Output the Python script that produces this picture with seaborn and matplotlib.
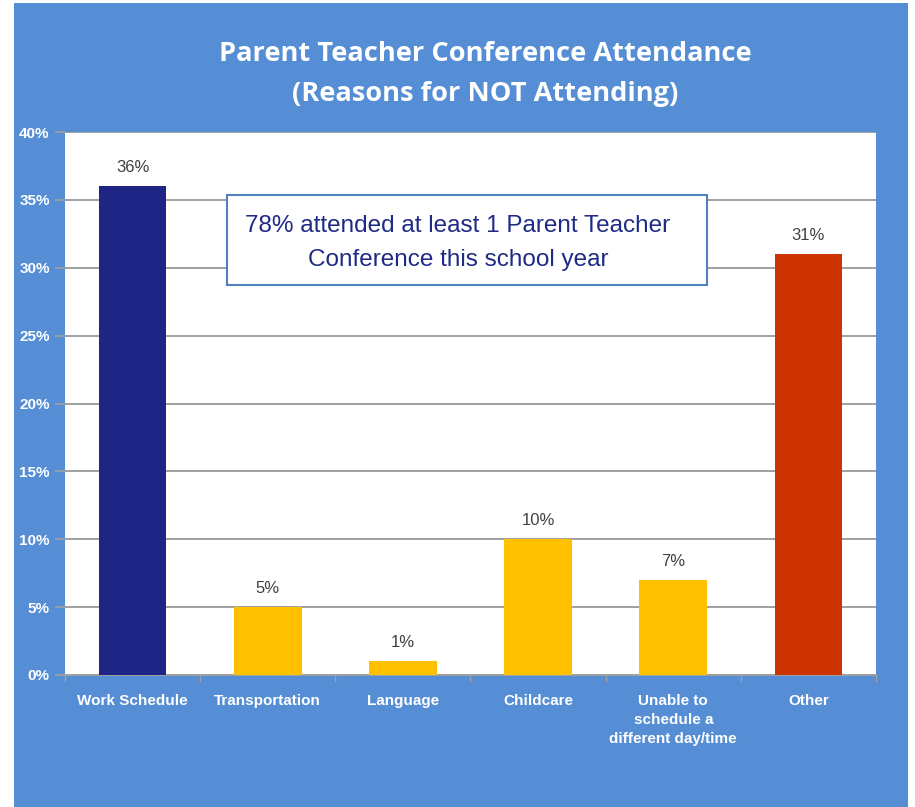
import matplotlib
matplotlib.use("Agg")
import matplotlib.pyplot as plt
import seaborn as sns
import pandas as pd
from matplotlib.patches import Rectangle
from matplotlib.ticker import FuncFormatter

categories = ["Work Schedule", "Transportation", "Language", "Childcare",
              "Unable to\nschedule a\ndifferent day/time", "Other"]
values = [36, 5, 1, 10, 7, 31]
bar_colors = ["#1F2585", "#FFC000", "#FFC000", "#FFC000", "#FFC000", "#CC3300"]
yticks = [0, 5, 10, 15, 20, 25, 30, 35, 40]

title = "Parent Teacher Conference Attendance\n(Reasons for NOT Attending)"
note = "78% attended at least 1 Parent Teacher\nConference this school year"

sns.set_theme(style="white")
plt.rcParams['font.family'] = ['Liberation Sans', 'DejaVu Sans']

W, H = 915, 807
fig = plt.figure(figsize=(W / 100, H / 100), dpi=100, facecolor="white")
bg = "#558ED5"
fig.patches.append(Rectangle((14 / W, 0), (908 - 14) / W, (807 - 3) / H,
                             transform=fig.transFigure, facecolor=bg,
                             edgecolor="none", zorder=0))

ax = fig.add_axes([65 / W, (H - 675) / H, (876 - 65) / W, (675 - 132) / H])
ax.set_zorder(2)
ax.set_facecolor("white")

df = pd.DataFrame({"cat": categories, "val": values})
sns.barplot(data=df, x="cat", y="val", hue="cat", palette=bar_colors,
            width=0.5, legend=False, ax=ax, saturation=1, zorder=3,
            linewidth=0)

ax.set_ylim(0, 40)
ax.set_xlim(-0.5, len(categories) - 0.5)
ax.set_yticks(yticks)
ax.yaxis.set_major_formatter(FuncFormatter(lambda v, p: f"{int(v)}%"))
ax.grid(axis="y", color="#A0A0A0", linewidth=1.4, zorder=1)
ax.set_axisbelow(True)
for s in ["top", "right", "left"]:
    ax.spines[s].set_visible(False)
ax.spines["bottom"].set_color("#A0A0A0")
ax.spines["bottom"].set_linewidth(1.4)

ax.set_xlabel("")
ax.set_ylabel("")
ax.tick_params(axis="y", left=True, length=7, width=1.2, color="#A0A0A0",
               pad=4, labelcolor="white", labelsize=11)
for t in ax.get_yticklabels():
    t.set_fontweight("bold")
ax.tick_params(axis="x", which="major", bottom=False, length=0, pad=14,
               labelcolor="white", labelsize=11)
for t in ax.get_xticklabels():
    t.set_fontweight("bold")
    t.set_verticalalignment("top")
    t.set_linespacing(1.45)
ax.set_xticks([i - 0.5 for i in range(len(categories) + 1)], minor=True)
ax.tick_params(axis="x", which="minor", bottom=True, length=5, width=1,
               color="#A0A0A0")

for i, v in enumerate(values):
    ax.annotate(f"{v}%", (i, v), xytext=(0, 8), textcoords="offset points",
                ha="center", va="bottom", color="#404040", fontsize=12)

fig.text(485 / W, 1 - 74 / H, title, ha="center", va="center", color="white",
         fontsize=19.6, fontweight="bold", family=["Open Sans", "DejaVu Sans"],
         linespacing=1.7)

ax.add_patch(Rectangle((227 / W, 1 - 285 / H), (707 - 227) / W, 90 / H,
                       transform=fig.transFigure, facecolor="white",
                       edgecolor="#4F81BD", linewidth=1.5, zorder=5,
                       clip_on=False))
ax.text(458 / W, 1 - 243 / H, note, transform=fig.transFigure,
        ha="center", va="center", color="#1F2A85", fontsize=17.5,
        family=["Liberation Sans", "DejaVu Sans"], linespacing=1.7,
        zorder=6, clip_on=False)

fig.savefig("out.png", dpi=100, facecolor="white")
